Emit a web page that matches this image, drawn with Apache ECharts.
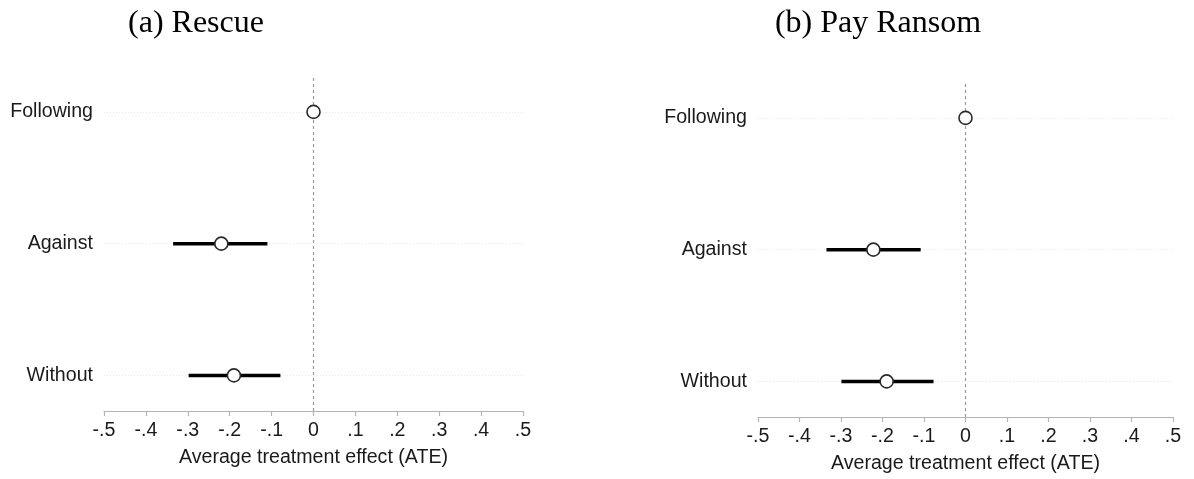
<!DOCTYPE html>
<html>
<head>
<meta charset="utf-8">
<script src="https://cdn.jsdelivr.net/npm/echarts@6/dist/echarts.min.js"></script>
<style>
  html, body { margin: 0; padding: 0; background: #fff; }
  #chart { width: 1194px; height: 479px; }
</style>
</head>
<body>
<div id="chart"></div>
<script>
// Rows, top to bottom
const categories = ['Following', 'Against', 'Without'];

// (a) Rescue: point estimates and 95% interval bounds
const rescueEst = [0, -0.22, -0.19];
const rescueLo = [null, -0.335, -0.298];
const rescueHi = [null, -0.11, -0.079];

// (b) Pay Ransom
const ransomEst = [0, -0.222, -0.19];
const ransomLo = [null, -0.335, -0.299];
const ransomHi = [null, -0.108, -0.077];

const xTicks = [-0.5, -0.4, -0.3, -0.2, -0.1, 0, 0.1, 0.2, 0.3, 0.4, 0.5];
const panelTitles = ['(a) Rescue', '(b) Pay Ransom'];
const xTitle = 'Average treatment effect (ATE)';

const SANS = '"Liberation Sans", Arial, sans-serif';
const SERIF = '"Liberation Serif", "Times New Roman", serif';
const FS = 19.6;

// categories are placed on a value axis: first row highest
const rowY = i => categories.length - i;
const rowValues = categories.map((c, i) => rowY(i));

function fmtTick(v) {
  if (Math.abs(v) < 1e-9) return '0';
  const s = (Math.round(v * 10) / 10).toString();
  return s.replace(/^(-?)0\./, '$1.');
}

const grids = [
  { left: 104, width: 419, top: 75, height: 336 },
  { left: 758, width: 415, top: 81, height: 336 }
];

function xAxisFor(gi) {
  return {
    gridIndex: gi, type: 'value', min: xTicks[0], max: xTicks[xTicks.length - 1], interval: 0.1,
    name: xTitle, nameLocation: 'middle', nameGap: 37,
    nameTextStyle: { fontFamily: SANS, fontSize: FS, color: '#1a1a1a' },
    axisLine: { show: true, lineStyle: { color: '#b4b4b4', width: 1.2 } },
    axisTick: { show: true, length: 5, lineStyle: { color: '#b4b4b4', width: 1.2 } },
    axisLabel: { margin: 10, fontFamily: SANS, fontSize: FS, color: '#1a1a1a',
      formatter: fmtTick },
    splitLine: { show: false }
  };
}

function yAxisFor(gi) {
  return {
    gridIndex: gi, type: 'value', min: 0.73, max: 3.28,
    axisLine: { show: false }, axisTick: { show: false },
    axisLabel: {
      show: true, customValues: rowValues, margin: 11,
      fontFamily: SANS, fontSize: FS, color: '#1a1a1a',
      formatter: v => categories[categories.length - Math.round(v)] || ''
    },
    splitLine: { show: false }
  };
}

function panelSeries(gi, est, lo, hi) {
  const ciData = categories.map((c, i) => [lo[i], hi[i], rowY(i)])
    .filter(d => d[0] !== null);
  return [
    {
      type: 'custom', xAxisIndex: gi, yAxisIndex: gi, z: 3,
      data: ciData,
      renderItem: (params, api) => {
        const a = api.coord([api.value(0), api.value(2)]);
        const b = api.coord([api.value(1), api.value(2)]);
        return { type: 'line', shape: { x1: a[0], y1: a[1], x2: b[0], y2: b[1] },
          style: { stroke: '#000', lineWidth: 3.5 } };
      },
      silent: true
    },
    {
      type: 'scatter', xAxisIndex: gi, yAxisIndex: gi, z: 4,
      symbol: 'circle', symbolSize: 13,
      itemStyle: { color: '#fff', borderColor: '#2a2a2a', borderWidth: 1.6, opacity: 1 },
      data: categories.map((c, i) => [est[i], rowY(i)]),
      markLine: {
        silent: true, symbol: 'none', label: { show: false },
        data: [
          { xAxis: 0, lineStyle: { color: '#999', type: [3, 3], width: 1.2 } },
          ...rowValues.map(v => ({ yAxis: v,
            lineStyle: { color: '#e6e6e6', type: [1, 2], width: 1 } }))
        ],
        z: 1
      }
    }
  ];
}

const chart = echarts.init(document.getElementById('chart'), null, { renderer: 'canvas' });
chart.setOption({
  animation: false,
  backgroundColor: '#fff',
  title: [
    { text: panelTitles[0], left: 191, top: 3, textAlign: 'center',
      textStyle: { fontFamily: SERIF, fontSize: 32, fontWeight: 'normal', color: '#000' } },
    { text: panelTitles[1], left: 873, top: 3, textAlign: 'center',
      textStyle: { fontFamily: SERIF, fontSize: 32, fontWeight: 'normal', color: '#000' } }
  ],
  grid: grids,
  xAxis: [xAxisFor(0), xAxisFor(1)],
  yAxis: [yAxisFor(0), yAxisFor(1)],
  series: [
    ...panelSeries(0, rescueEst, rescueLo, rescueHi),
    ...panelSeries(1, ransomEst, ransomLo, ransomHi)
  ]
});
</script>
</body>
</html>
